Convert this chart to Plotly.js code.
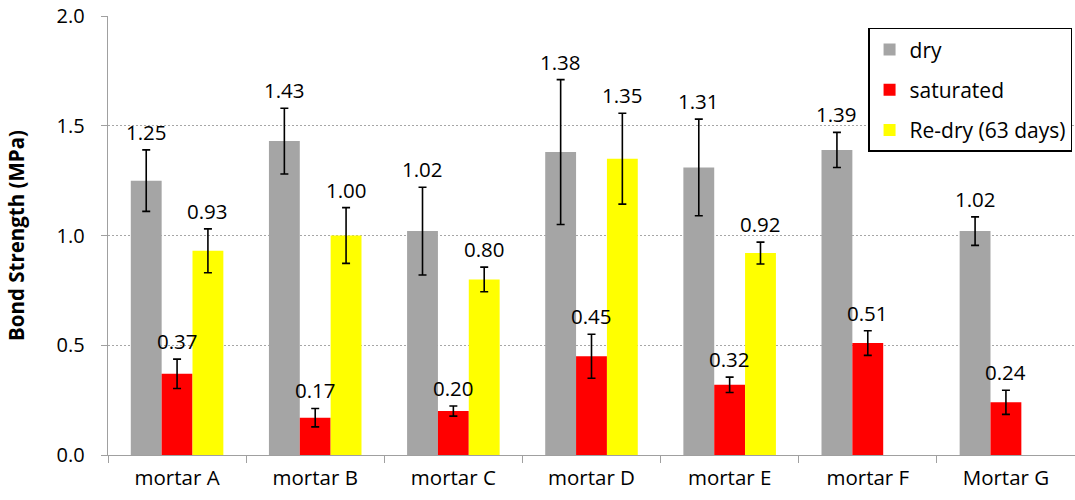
<!DOCTYPE html>
<html>
<head>
<meta charset="utf-8">
<script src="https://cdn.plot.ly/plotly-3.0.1.min.js"></script>
<style>html,body{margin:0;padding:0;background:#fff;}#chart{width:1075px;height:500px;}</style>
</head>
<body>
<div id="chart"></div>
<script>
const categories = ["mortar A", "mortar B", "mortar C", "mortar D", "mortar E", "mortar F", "Mortar G"];
const dryValues = [1.25, 1.43, 1.02, 1.38, 1.31, 1.39, 1.02];
const dryErrors = [0.14, 0.15, 0.20, 0.33, 0.22, 0.08, 0.065];
const saturatedValues = [0.37, 0.17, 0.20, 0.45, 0.32, 0.51, 0.24];
const saturatedErrors = [0.067, 0.042, 0.023, 0.10, 0.035, 0.056, 0.055];
const redryValues = [0.93, 1.00, 0.80, 1.35, 0.92, null, null];
const redryErrors = [0.10, 0.127, 0.056, 0.207, 0.05, null, null];
const seriesNames = ["dry", "saturated", "Re-dry (63 days)"];
const seriesColors = ["#A5A5A5", "#FF0000", "#FFFF00"];

const series = [
  {v: dryValues, e: dryErrors},
  {v: saturatedValues, e: saturatedErrors},
  {v: redryValues, e: redryErrors}
];

const marginL = 108, marginR = 0, W = 1075;
const bargap = 0.33;
const plotW = W - marginL - marginR;
const barPx = plotW / categories.length * (1 - bargap) / 3;
const FONT = 'Open Sans, sans-serif';

const traces = series.map((s, i) => ({
  type: 'bar',
  name: seriesNames[i],
  x: categories,
  y: s.v,
  legendgroup: 'g' + i,
  marker: {color: seriesColors[i], line: {width: 0}},
  error_y: {type: 'data', array: s.e, visible: true, color: '#000000', thickness: 1.6, width: 4},
  hoverinfo: 'x+y'
}));

const annotations = [];
series.forEach((s, i) => {
  s.v.forEach((val, j) => {
    if (val === null) return;
    annotations.push({
      x: categories[j], y: val + s.e[j], xref: 'x', yref: 'y',
      text: val.toFixed(2), showarrow: false,
      xshift: (i - 1) * barPx, yshift: 18, yanchor: 'middle',
      font: {family: FONT, size: 20.5, color: '#000'}
    });
  });
});

const layout = {
  width: W, height: 500,
  margin: {l: marginL, r: marginR, t: 16, b: 45},
  paper_bgcolor: '#fff', plot_bgcolor: '#fff',
  barmode: 'group', bargap: bargap, bargroupgap: 0,
  showlegend: true,
  legend: {
    x: 0.786, y: 0.973, xanchor: 'left', yanchor: 'top',
    bordercolor: '#000', borderwidth: 1.5, bgcolor: '#fff',
    font: {family: FONT, size: 21, color: '#000'},
    tracegroupgap: 10, traceorder: 'grouped', itemwidth: 30
  },
  xaxis: {
    type: 'category',
    showline: true, linecolor: '#A0A0A0', linewidth: 1.3,
    ticks: 'outside', tickson: 'boundaries', ticklen: 7, tickcolor: '#A0A0A0',
    tickfont: {family: FONT, size: 20.5, color: '#000'},
    ticklabelstandoff: 4,
    showgrid: false, zeroline: false
  },
  yaxis: {
    range: [0, 2.0], dtick: 0.5, tickformat: '.1f',
    showline: true, linecolor: '#A0A0A0', linewidth: 1.3,
    ticks: 'outside', ticklen: 6, tickcolor: '#A0A0A0',
    tickfont: {family: FONT, size: 20, color: '#000'},
    ticklabelstandoff: 12,
    showgrid: true, gridcolor: '#A6A6A6', griddash: '2px,2px', gridwidth: 1,
    zeroline: false,
    title: {text: '<b>Bond Strength (MPa)</b>', font: {family: FONT, size: 20.5, color: '#000'}, standoff: 26}
  },
  annotations: annotations
};

Plotly.newPlot('chart', traces, layout, {displayModeBar: false, staticPlot: true});
</script>
</body>
</html>
